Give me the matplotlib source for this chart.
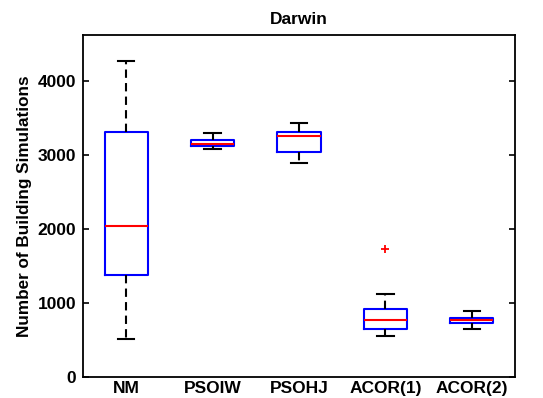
import matplotlib
matplotlib.use("Agg")
import matplotlib.pyplot as plt

plt.rcParams['font.family'] = ['Liberation Sans', 'DejaVu Sans']

labels = ["NM", "PSOIW", "PSOHJ", "ACOR(1)", "ACOR(2)"]
whislo = [509, 3081, 2896, 550, 653]
q1 = [1378, 3126, 3036, 648, 724]
med = [2045, 3149, 3261, 766, 766]
q3 = [3305, 3207, 3305, 919, 797]
whishi = [4270, 3292, 3428, 1117, 888]
fliers = [[], [], [], [1725], []]

stats = []
for i in range(len(labels)):
    stats.append(dict(label=labels[i], whislo=whislo[i], q1=q1[i], med=med[i],
                      q3=q3[i], whishi=whishi[i], fliers=fliers[i]))

fig = plt.figure(figsize=(5.43, 3.98), dpi=100)
ax = fig.add_axes([0.1529, 0.0528, 0.7955, 0.8592])

ax.bxp(stats, positions=range(1, 6), widths=0.5, capwidths=0.19,
       boxprops=dict(color='#0000ff', linewidth=1.5),
       medianprops=dict(color='#ff0000', linewidth=1.5),
       whiskerprops=dict(color='black', linewidth=1.5, linestyle=(0, (4, 2.5))),
       capprops=dict(color='black', linewidth=1.5),
       flierprops=dict(marker='+', markeredgecolor='#ff0000', markersize=6, markeredgewidth=1.3))

ax.set_xlim(0.5, 5.5)
ax.set_ylim(0, 4620)
ax.set_yticks([0, 1000, 2000, 3000, 4000])
ax.set_xticks(range(1, 6))
ax.set_xticklabels(labels, fontsize=12.5, fontweight='bold')
for t in ax.get_yticklabels():
    t.set_fontsize(12.5)
    t.set_fontweight('bold')
ax.tick_params(axis='y', direction='in', right=True, length=4, width=1.2, pad=5)
ax.tick_params(axis='x', length=0, pad=3)
for s in ax.spines.values():
    s.set_linewidth(1.3)
ax.set_title("Darwin", fontsize=12.5, fontweight='bold', pad=8)
ax.set_ylabel("Number of Building Simulations", fontsize=12.3, fontweight='bold', labelpad=4)

fig.savefig("out.png", dpi=100)
